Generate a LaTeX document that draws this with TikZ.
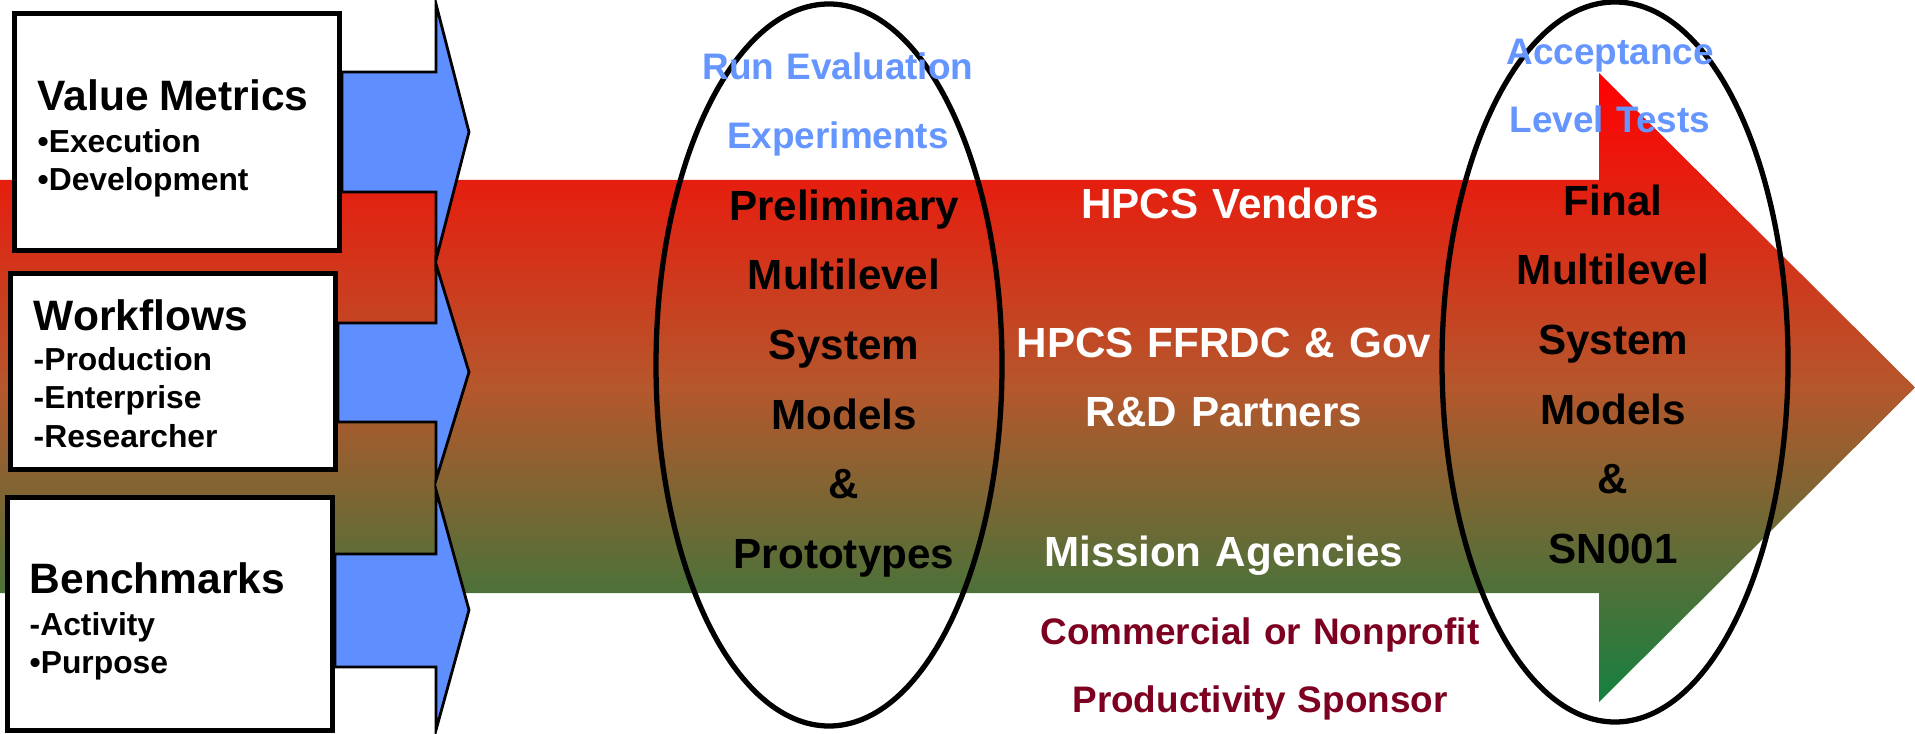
\documentclass[tikz,border=0pt]{standalone}
\usepackage{fontspec}
\setmainfont{Liberation Sans}
\usepackage{tikz}
\usetikzlibrary{backgrounds}
\definecolor{evalblue}{HTML}{6595FF}
\definecolor{arrowblue}{HTML}{5F8FFF}
\definecolor{sponsorred}{HTML}{7D0020}
\definecolor{flowred}{HTML}{FF0000}
\definecolor{flowbrown}{HTML}{B5572C}
\definecolor{flowgreen}{HTML}{148040}
\newcommand{\boxhead}[1]{{\fontsize{12.1}{14}\selectfont #1}}

\begin{document}
\begin{tikzpicture}[
    metric/.style    = {rectangle, draw=black, line width=1.4pt, fill=white,
                        minimum width=3.25cm},
    metrictxt/.style = {anchor=north west, text width=3cm, align=left, inner sep=0pt,
                        font=\fontsize{9.05}{10.9}\selectfont\bfseries},
    feed/.style      = {draw=black, line width=0.8pt, fill=arrowblue, line join=miter},
    ring/.style      = {draw=black, line width=1.5pt},
    stage/.style     = {anchor=north, text width=5cm, align=center, inner sep=0pt,
                        font=\fontsize{12}{19.8}\selectfont\bfseries},
    test/.style      = {anchor=north, text width=4cm, align=center, inner sep=0pt,
                        text=evalblue, font=\fontsize{10.5}{19.6}\selectfont\bfseries},
    party/.style     = {text=white, text width=5cm, align=center, inner sep=0pt,
                        font=\fontsize{12}{19.6}\selectfont\bfseries},
    sponsor/.style   = {anchor=north, text width=5.5cm, align=center, inner sep=0pt,
                        text=sponsorred, font=\fontsize{10.5}{19.4}\selectfont\bfseries}
  ]
  \useasboundingbox (0,0) rectangle (19.15,-7.34);

  % Input boxes
  \node[metric, minimum height=2.37cm] (vm) at (1.77,-1.32)  {};
  \node[metric, minimum height=1.96cm] (wf) at (1.73,-3.715) {};
  \node[metric, minimum height=2.33cm] (bm) at (1.70,-6.14)  {};

  \node[metrictxt] (vmtxt) at (0.37,-0.79)
    {\boxhead{Value Metrics}\\[1.05pt]\textbullet Execution\\\textbullet Development};
  \node[metrictxt] (wftxt) at (0.33,-2.99)
    {\boxhead{Workflows}\\[0.5pt]-Production\\-Enterprise\\-Researcher};
  \node[metrictxt] (bmtxt) at (0.29,-5.62)
    {\boxhead{Benchmarks}\\[1.05pt]-Activity\\\textbullet Purpose};

  % Texts along the flow
  \node[test]  (evaltxt) at (8.38,-0.52) {Run Evaluation\\Experiments};
  \node[stage] (prelim)  at (8.44,-1.89)
    {Preliminary\\Multilevel\\System\\Models\\\&\\Prototypes};
  \node[party, anchor=base]  (vendors)  at (12.30,-2.19) {HPCS Vendors};
  \node[party, anchor=north] (partners) at (12.24,-3.27) {HPCS FFRDC \& Gov\\R\&D Partners};
  \node[party, anchor=base]  (agencies) at (12.24,-5.67) {Mission Agencies};
  \node[sponsor] (sponsortxt) at (12.60,-6.17) {Commercial or Nonprofit\\Productivity Sponsor};
  \node[test]  (accept) at (16.10,-0.38) {Acceptance\\Level Tests};
  \node[stage] (final)  at (16.13,-1.84)
    {Final\\Multilevel\\System\\Models\\\&\\SN001};

  \begin{scope}[on background layer]
    \fill[white] (0,0) rectangle (19.15,-7.34);
    % Main flow arrow
    \shade[top color=flowred, bottom color=flowgreen, middle color=flowbrown]
      (0,-1.80) -- (15.99,-1.80) -- (15.99,-0.73) -- (19.15,-3.875)
      -- (15.99,-7.02) -- (15.99,-5.93) -- (0,-5.93) -- cycle;
    % Feeding arrows
    \foreach \src/\yt/\yb/\yht/\yhb/\ytip in {vm/-0.72/-1.92/-0.04/-2.60/-1.32,
                                             wf/-3.23/-4.22/-2.64/-4.80/-3.72,
                                             bm/-5.54/-6.67/-4.90/-7.30/-6.10}
      \draw[feed] (\src.east |- 0,\yt) -- (4.36,\yt) -- (4.36,\yht) -- (4.69,\ytip)
        -- (4.36,\yhb) -- (4.36,\yb) -- (\src.east |- 0,\yb) -- cycle;
    % Evaluation rings
    \draw[ring] (8.29,-3.65) ellipse [x radius=1.73, y radius=3.61];
    \draw[ring] (16.15,-3.62) ellipse [x radius=1.73, y radius=3.60];
  \end{scope}
\end{tikzpicture}
\end{document}
